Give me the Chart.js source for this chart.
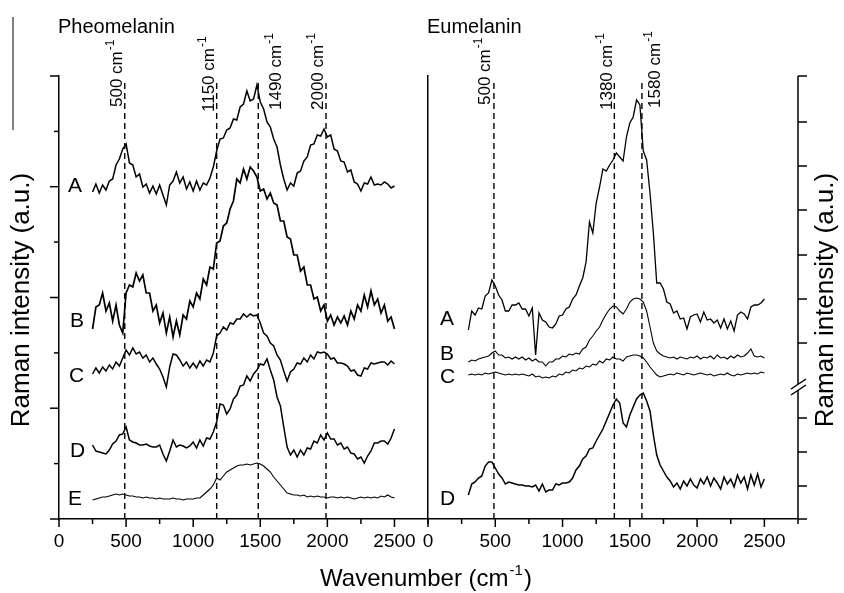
<!DOCTYPE html>
<html>
<head>
<meta charset="utf-8">
<script src="https://cdn.jsdelivr.net/npm/chart.js@4/dist/chart.umd.min.js"></script>
<style>
  html, body { margin: 0; padding: 0; background: #fff; }
  #wrap { position: relative; width: 844px; height: 593px; }
  canvas { position: absolute; left: 0; top: 0; }
</style>
</head>
<body>
<div id="wrap">
  <canvas id="pheo" width="844" height="593"></canvas>
  <canvas id="eu" width="844" height="593"></canvas>
</div>
<script>
// sampling grid (cm-1), shared by all spectra
const WAVENUMBER = [
  250, 275, 300, 325, 350, 375, 400, 425, 450, 475,
  500, 525, 550, 575, 600, 625, 650, 675, 700, 725,
  750, 775, 800, 825, 850, 875, 900, 925, 950, 975,
  1000, 1025, 1050, 1075, 1100, 1125, 1150, 1175, 1200, 1225,
  1250, 1275, 1300, 1325, 1350, 1375, 1400, 1425, 1450, 1475,
  1500, 1525, 1550, 1575, 1600, 1625, 1650, 1675, 1700, 1725,
  1750, 1775, 1800, 1825, 1850, 1875, 1900, 1925, 1950, 1975,
  2000, 2025, 2050, 2075, 2100, 2125, 2150, 2175, 2200, 2225,
  2250, 2275, 2300, 2325, 2350, 2375, 2400, 2425, 2450, 2475,
  2500
];

// Pheomelanin spectra (stacked, a.u.)
const PHEO_A = [
  327, 335, 326, 334, 329, 338, 340, 354, 360, 370,
  375, 356, 354, 342, 345, 332, 335, 326, 333, 325,
  334, 324, 314, 334, 338, 347, 336, 342, 330, 337,
  328, 338, 329, 336, 334, 341, 352, 368, 380, 381,
  389, 391, 400, 399, 412, 415, 428, 418, 420, 434,
  417, 410, 397, 392, 380, 372, 354, 340, 329, 336,
  333, 346, 348, 358, 362, 374, 375, 384, 383, 390,
  382, 384, 370, 368, 358, 357, 347, 349, 337, 335,
  328, 336, 335, 342, 334, 335, 334, 337, 335, 331,
  333
];
const PHEO_B = [
  190, 212, 214, 226, 208, 216, 198, 214, 194, 186,
  226, 234, 232, 246, 238, 244, 226, 226, 208, 214,
  196, 206, 186, 202, 182, 198, 184, 204, 200, 218,
  212, 226, 220, 240, 234, 252, 250, 276, 278, 293,
  296, 310, 318, 340, 336, 350, 340, 352, 348, 342,
  328, 330, 320, 326, 316, 314, 298, 298, 282, 280,
  264, 264, 248, 252, 234, 234, 220, 222, 208, 214,
  198, 204, 194, 202, 196, 203, 194, 208, 200, 214,
  208, 224, 212, 228, 214, 220, 206, 214, 198, 202,
  190
];
const PHEO_C = [
  145, 151, 146, 152, 148, 154, 150, 157, 153, 161,
  169, 164, 171, 165, 167, 161, 164, 157, 161, 155,
  150, 142, 132, 152, 165, 164, 159, 153, 157, 151,
  156, 151, 158, 153, 159, 157, 166, 183, 186, 192,
  189, 196, 195, 200, 200, 205, 202, 205, 203, 204,
  196, 186, 183, 176, 173, 164, 159, 148, 138, 147,
  150, 156, 155, 161, 157, 164, 160, 167, 166, 167,
  165, 160, 161, 156, 156, 155, 153, 148, 149, 144,
  143, 151, 150, 156, 155, 156, 157, 157, 154, 158,
  155
];
const PHEO_D = [
  74, 68, 67, 66, 65, 69, 75, 78, 84, 85,
  92, 79, 77, 76, 74, 74, 75, 73, 72, 72,
  74, 65, 58, 68, 79, 72, 74, 73, 71, 73,
  77, 71, 79, 73, 81, 80, 87, 97, 115, 114,
  105, 110, 120, 124, 133, 134, 143, 138, 145, 149,
  155, 154, 160, 149, 139, 122, 113, 92, 72, 64,
  69, 62, 69, 64, 71, 70, 78, 76, 84, 79,
  86, 80, 80, 74, 76, 70, 72, 66, 65, 60,
  62, 56, 63, 68, 76, 76, 78, 78, 75, 81,
  90
];
const PHEO_E = [
  19, 20, 21, 22, 22, 23, 24, 25, 24, 25,
  24, 23, 23, 22, 22, 21, 22, 21, 21, 20,
  21, 20, 20, 20, 21, 20, 20, 19, 20, 20,
  20, 21, 21, 24, 27, 30, 34, 41, 39, 43,
  47, 49, 51, 53, 54, 54, 55, 54, 55, 56,
  55, 53, 50, 47, 42, 38, 34, 30, 26, 25,
  24, 24, 23, 24, 22, 23, 22, 23, 22, 22,
  21, 22, 22, 21, 22, 21, 22, 21, 20, 21,
  22, 21, 22, 21, 22, 21, 23, 22, 24, 22,
  21
];

// Eumelanin spectra (start at 300 cm-1)
const EU_A = [
  null, null, 189, 208, 204, 211, 210, 223, 226, 239,
  233, 224, 219, 208, 208, 214, 214, 216, 210, 210,
  203, 211, 164, 206, 199, 197, 192, 191, 195, 203,
  204, 210, 212, 220, 224, 233, 241, 257, 297, 286,
  316, 332, 350, 348, 354, 359, 366, 362, 358, 382,
  396, 402, 419, 414, 368, 359, 326, 286, 236, 236,
  230, 217, 215, 206, 208, 200, 201, 190, 202, 204,
  205, 197, 207, 199, 200, 196, 199, 191, 200, 190,
  198, 188, 204, 207, 205, 200, 212, 214, 214, 216,
  220
];
const EU_B = [
  null, null, 157, 159, 158, 160, 161, 162, 163, 166,
  168, 164, 164, 161, 162, 160, 162, 160, 162, 159,
  161, 158, 160, 157, 157, 153, 157, 157, 160, 160,
  163, 162, 165, 164, 166, 165, 170, 172, 179, 183,
  188, 192, 199, 205, 210, 213, 212, 208, 205, 210,
  217, 220, 221, 220, 217, 208, 192, 176, 168, 165,
  163, 162, 161, 162, 160, 162, 161, 160, 162, 161,
  163, 160, 162, 161, 163, 160, 164, 161, 162, 160,
  163, 161, 164, 162, 163, 166, 170, 163, 162, 163,
  161
];
const EU_C = [
  null, null, 144, 145, 144, 145, 144, 146, 145, 146,
  147, 146, 145, 144, 145, 144, 145, 144, 145, 144,
  143, 145, 142, 143, 141, 142, 141, 143, 142, 145,
  144, 147, 146, 149, 148, 151, 150, 153, 152, 155,
  154, 158, 156, 160, 159, 162, 160, 160, 158, 162,
  163, 164, 164, 163, 161, 157, 152, 148, 144, 142,
  143, 144, 145, 144, 146, 145, 144, 146, 145, 144,
  145, 146, 145, 144, 145, 143, 144, 145, 144, 146,
  144, 143, 145, 144, 145, 146, 145, 146, 145, 147,
  146
];
const EU_D = [
  null, null, 24, 35, 37, 41, 43, 53, 57, 57,
  51, 45, 41, 35, 37, 36, 35, 34, 34, 33,
  33, 32, 34, 28, 35, 27, 29, 29, 35, 34,
  36, 36, 37, 41, 49, 53, 60, 63, 70, 71,
  78, 84, 90, 98, 106, 114, 120, 116, 96, 92,
  104, 112, 120, 124, 126, 118, 108, 84, 64, 54,
  48, 42, 38, 32, 36, 30, 38, 33, 40, 34,
  31, 40, 35, 42, 33, 41, 36, 30, 42, 35,
  40, 32, 44, 36, 42, 30, 44, 34, 45, 32,
  40
];

// marked band positions
const PHEO_PEAKS = [490, 1175, 1485, 1990];
const PHEO_PEAK_LABELS = ['500', '1150', '1490', '2000'];
const EU_PEAKS = [490, 1385, 1590];
const EU_PEAK_LABELS = ['500', '1380', '1580'];

const X_LABEL_TICKS = [0, 500, 1000, 1500, 2000, 2500];
const X_MARK_TICKS = [0, 250, 500, 750, 1000, 1250, 1500, 1750, 2000, 2250, 2500, 2750];
const LEFT_Y_TICKS = [0, 55.4, 110.8, 166.1, 221.5, 276.9, 332.3, 387.6, 443];
const RIGHT_Y_TICKS = [443, 397, 353, 309, 264, 220, 176, 101, 67, 33, 0];
const RIGHT_BREAK = 132;

const FONT = '"Liberation Sans", Arial, Helvetica, sans-serif';
const Y_MAX = 443;
const X_MAX = 2750;
const PEAK_LINE_TOP = 440;

Chart.defaults.font.family = FONT;
Chart.defaults.color = '#000';

function points(values) {
  return WAVENUMBER.map((x, i) => ({ x: x, y: values[i] }));
}

function seg(ctx, x1, y1, x2, y2) {
  ctx.beginPath();
  ctx.moveTo(x1, y1);
  ctx.lineTo(x2, y2);
  ctx.stroke();
}

function drawXMarks(c) {
  const ctx = c.ctx, xs = c.scales.x, y0 = c.chartArea.bottom;
  ctx.save();
  ctx.strokeStyle = '#000';
  ctx.lineWidth = 1.5;
  X_MARK_TICKS.forEach(v => {
    const px = xs.getPixelForValue(v);
    seg(ctx, px, y0, px, y0 + (v % 500 === 0 ? 8 : 5));
  });
  ctx.restore();
}

function drawPeakLabels(c, peaks, labels, offsets, bottoms) {
  const ctx = c.ctx, xs = c.scales.x;
  peaks.forEach((p, i) => {
    const px = xs.getPixelForValue(p) + offsets[i];
    ctx.save();
    ctx.translate(px, bottoms[i]);
    ctx.rotate(-Math.PI / 2);
    ctx.fillStyle = '#000';
    ctx.textBaseline = 'alphabetic';
    ctx.textAlign = 'left';
    ctx.font = '17px ' + FONT;
    const main = labels[i] + ' cm';
    ctx.fillText(main, 0, 0);
    const w = ctx.measureText(main).width;
    ctx.font = '12px ' + FONT;
    ctx.fillText('-1', w + 1, -8);
    ctx.restore();
  });
}

function drawLetters(ctx, letters) {
  ctx.save();
  ctx.fillStyle = '#000';
  ctx.font = '21px ' + FONT;
  ctx.textBaseline = 'alphabetic';
  letters.forEach(l => ctx.fillText(l[0], l[1], l[2]));
  ctx.restore();
}

function drawYTitle(ctx, x, y) {
  ctx.save();
  ctx.translate(x, y);
  ctx.rotate(-Math.PI / 2);
  ctx.fillStyle = '#000';
  ctx.font = '26px ' + FONT;
  ctx.textAlign = 'center';
  ctx.textBaseline = 'middle';
  ctx.fillText('Raman intensity (a.u.)', 0, 0);
  ctx.restore();
}

// spectra: [values, line width]
function makePanel(id, spectra, peaks, padding, draw) {
  const datasets = spectra.map(s => ({
    data: points(s[0]),
    borderColor: '#000',
    borderWidth: s[1],
    pointRadius: 0,
    fill: false,
    tension: 0
  }));
  peaks.forEach(p => datasets.push({
    data: [{ x: p, y: 0 }, { x: p, y: PEAK_LINE_TOP }],
    borderColor: '#000',
    borderWidth: 1.4,
    borderDash: [6, 4],
    pointRadius: 0
  }));
  return new Chart(document.getElementById(id), {
    type: 'line',
    data: { datasets },
    options: {
      responsive: false,
      animation: false,
      events: [],
      layout: { padding },
      plugins: { legend: { display: false }, tooltip: { enabled: false } },
      scales: {
        x: {
          type: 'linear', min: 0, max: X_MAX,
          afterFit: s => { s.height = 74; },
          afterBuildTicks: s => { s.ticks = X_LABEL_TICKS.map(v => ({ value: v })); },
          grid: { display: false, drawTicks: false },
          border: { display: true, color: '#000', width: 1.5 },
          ticks: { padding: 11, font: { size: 19 }, color: '#000', maxRotation: 0, autoSkip: false, callback: v => String(v) }
        },
        y: {
          min: 0, max: Y_MAX,
          afterFit: s => { s.width = 0; },
          grid: { display: false, drawTicks: false },
          border: { display: true, color: '#000', width: 1.5 },
          ticks: { display: false }
        }
      }
    },
    plugins: [{ id: 'deco', afterDraw: draw }]
  });
}

// left panel: pheomelanin
makePanel('pheo', [[PHEO_A, 1.5], [PHEO_B, 1.7], [PHEO_C, 1.5], [PHEO_D, 1.5], [PHEO_E, 1.1]], PHEO_PEAKS,
  { left: 59, right: 416, top: 76, bottom: 0 },
  c => {
    const ctx = c.ctx, ys = c.scales.y, x0 = c.chartArea.left;
    drawXMarks(c);
    ctx.save();
    ctx.strokeStyle = '#000';
    ctx.lineWidth = 1.5;
    LEFT_Y_TICKS.forEach((v, i) => {
      const py = ys.getPixelForValue(v);
      seg(ctx, x0, py, x0 - (i % 2 === 0 ? 9 : 5), py);
    });
    ctx.lineWidth = 1;
    seg(ctx, 13, 17, 13, 130);
    ctx.restore();
    drawPeakLabels(c, PHEO_PEAKS, PHEO_PEAK_LABELS, [-3, -3, 23, -3], [107, 112, 110, 110]);
    drawLetters(ctx, [['A', 68, 192], ['B', 70, 327], ['C', 69, 382], ['D', 70, 457], ['E', 68, 505]]);
    ctx.save();
    ctx.fillStyle = '#000';
    ctx.font = '20px ' + FONT;
    ctx.fillText('Pheomelanin', 58, 33);
    ctx.restore();
    drawYTitle(ctx, 22, 300);
  });

// right panel: eumelanin
makePanel('eu', [[EU_A, 1.3], [EU_B, 1.1], [EU_C, 1.1], [EU_D, 1.5]], EU_PEAKS,
  { left: 428, right: 46, top: 76, bottom: 0 },
  c => {
    const ctx = c.ctx, ys = c.scales.y, a = c.chartArea;
    drawXMarks(c);
    const br = ys.getPixelForValue(RIGHT_BREAK);
    ctx.save();
    ctx.strokeStyle = '#000';
    ctx.lineWidth = 1.5;
    seg(ctx, a.right, a.top, a.right, br - 3);
    seg(ctx, a.right, br + 3, a.right, a.bottom);
    seg(ctx, a.right - 7, br + 2, a.right + 8, br - 8);
    seg(ctx, a.right - 7, br + 8, a.right + 8, br - 2);
    RIGHT_Y_TICKS.forEach(v => {
      const py = ys.getPixelForValue(v);
      seg(ctx, a.right, py, a.right + 9, py);
    });
    ctx.restore();
    drawPeakLabels(c, EU_PEAKS, EU_PEAK_LABELS, [-4, -2, 18], [105, 110, 108]);
    drawLetters(ctx, [['A', 440, 325], ['B', 440, 360], ['C', 440, 383], ['D', 440, 505]]);
    ctx.save();
    ctx.fillStyle = '#000';
    ctx.font = '20px ' + FONT;
    ctx.fillText('Eumelanin', 427, 33);
    // x title with superscript
    ctx.font = '24px ' + FONT;
    const t1 = 'Wavenumber (cm';
    const w1 = ctx.measureText(t1).width;
    ctx.font = '15px ' + FONT;
    const w2 = ctx.measureText('-1').width;
    ctx.font = '24px ' + FONT;
    const w3 = ctx.measureText(')').width;
    const sx = 426 - (w1 + w2 + w3 + 2) / 2;
    ctx.fillText(t1, sx, 586);
    ctx.font = '15px ' + FONT;
    ctx.fillText('-1', sx + w1 + 1, 575);
    ctx.font = '24px ' + FONT;
    ctx.fillText(')', sx + w1 + w2 + 2, 586);
    ctx.restore();
    drawYTitle(ctx, 826, 300);
  });
</script>
</body>
</html>
